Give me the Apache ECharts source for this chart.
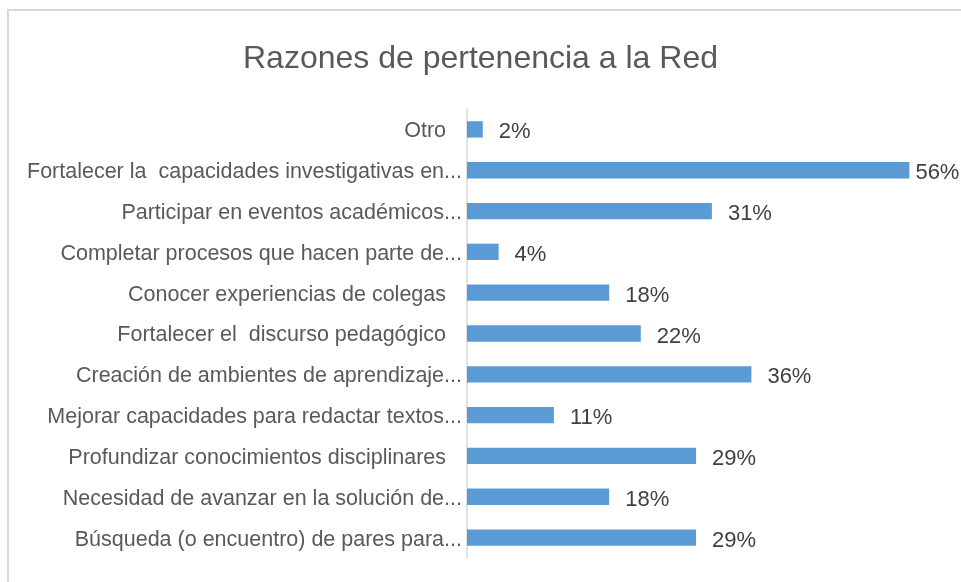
<!DOCTYPE html>
<html>
<head>
<meta charset="utf-8">
<script src="https://cdn.jsdelivr.net/npm/echarts@6/dist/echarts.min.js"></script>
<style>html,body{margin:0;padding:0;background:#fff}#c{width:961px;height:582px}</style>
</head>
<body>
<div id="c"></div>
<script>
const titleText = 'Razones de pertenencia a la Red';
const categories = [
  'Otro',
  'Fortalecer la  capacidades investigativas en...',
  'Participar en eventos académicos...',
  'Completar procesos que hacen parte de...',
  'Conocer experiencias de colegas',
  'Fortalecer el  discurso pedagógico',
  'Creación de ambientes de aprendizaje...',
  'Mejorar capacidades para redactar textos...',
  'Profundizar conocimientos disciplinares',
  'Necesidad de avanzar en la solución de...',
  'Búsqueda (o encuentro) de pares para...'
];
const values = [2, 56, 31, 4, 18, 22, 36, 11, 29, 18, 29];
// labels without ellipsis end earlier (trailing space in source)
const trailingSpace = [true, false, false, false, true, true, false, false, true, false, false];

const chart = echarts.init(document.getElementById('c'), null, {renderer: 'canvas'});
const FONT = 'Liberation Sans, Arial, sans-serif';
const seriesData = values.map(v => v >= 50 ? {value: v, label: {distance: 6}} : v);
chart.setOption({
  animation: false,
  backgroundColor: '#fff',
  title: {
    text: titleText, left: 'center', top: 38,
    textStyle: {fontFamily: FONT, fontSize: 32, fontWeight: 'normal', color: '#595959'}
  },
  graphic: [{
    type: 'rect', shape: {x: 8, y: 10, width: 1200, height: 1200},
    style: {fill: 'none', stroke: '#D9D9D9', lineWidth: 2}, silent: true
  }],
  grid: {left: 467, right: 20, top: 109, bottom: 24, containLabel: false},
  xAxis: {
    type: 'value', min: 0, max: 60, show: false
  },
  yAxis: {
    type: 'category', inverse: true, data: categories,
    axisLine: {show: true, lineStyle: {color: '#D9D9D9', width: 1.5}},
    axisTick: {show: false},
    axisLabel: {
      fontFamily: FONT, fontSize: 21.5, color: '#595959', margin: 5,
      padding: [4, 0, 0, 0],
      formatter: (v) => {
        const i = categories.indexOf(v);
        return trailingSpace[i] ? '{s|' + v + '}' : v;
      },
      rich: {s: {fontFamily: FONT, fontSize: 21.5, color: '#595959', padding: [0, 16, 0, 0]}}
    }
  },
  series: [{
    type: 'bar', data: seriesData, barCategoryGap: '60%',
    itemStyle: {color: '#5B9BD5'},
    label: {
      show: true, position: 'right', distance: 16, offset: [0, 3],
      formatter: '{c}%', fontFamily: FONT, fontSize: 22, color: '#404040'
    }
  }]
});
</script>
</body>
</html>
